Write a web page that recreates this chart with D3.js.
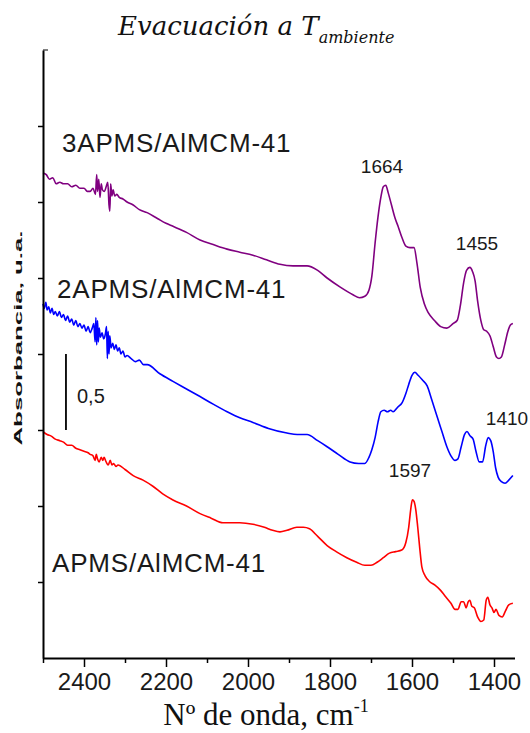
<!DOCTYPE html>
<html>
<head>
<meta charset="utf-8">
<script src="https://cdn.jsdelivr.net/npm/d3@7.9.0/dist/d3.min.js"></script>
<style>
  body { margin: 0; background: #fff; }
  svg { display: block; }
  .lbl { font-family: "Liberation Sans", Arial, sans-serif; fill: #1a1a1a; }
</style>
</head>
<body>
<svg id="chart" width="530" height="733"></svg>
<script>
// wavenumber (cm-1) and absorbance (stacked, a.u.)
const purpleWn  = [2500, 2492, 2484, 2476, 2468, 2459, 2450, 2440, 2430, 2420, 2410, 2400, 2392, 2385, 2378, 2372, 2369, 2367, 2364, 2361, 2358, 2355, 2350, 2346, 2342, 2339, 2337, 2335, 2332, 2329, 2325, 2320, 2314, 2305, 2295, 2280, 2265, 2246, 2220, 2200, 2183, 2150, 2117, 2085, 2051, 2020, 1988, 1955, 1922, 1890, 1856, 1830, 1807, 1775, 1744, 1728, 1715, 1705, 1698, 1690, 1683, 1676, 1670, 1664, 1658, 1650, 1642, 1634, 1625, 1615, 1605, 1595, 1588, 1580, 1570, 1560, 1545, 1530, 1515, 1500, 1490, 1482, 1474, 1467, 1459, 1452, 1446, 1440, 1432, 1425, 1418, 1410, 1402, 1394, 1388, 1382, 1374, 1366, 1360, 1354];
const purpleAbs = [3.19, 3.18, 3.15, 3.16, 3.12, 3.13, 3.12, 3.12, 3.10, 3.11, 3.09, 3.09, 3.07, 3.07, 3.09, 3.05, 3.18, 3.07, 3.15, 3.03, 3.12, 3.08, 3.07, 3.10, 3.13, 2.98, 2.94, 3.12, 3.04, 3.08, 3.04, 3.05, 3.03, 3.02, 3.00, 2.98, 2.95, 2.93, 2.89, 2.86, 2.84, 2.80, 2.75, 2.72, 2.69, 2.67, 2.65, 2.62, 2.59, 2.58, 2.58, 2.55, 2.50, 2.44, 2.39, 2.37, 2.38, 2.42, 2.51, 2.73, 2.90, 3.03, 3.10, 3.11, 3.06, 2.98, 2.90, 2.84, 2.77, 2.71, 2.70, 2.70, 2.60, 2.44, 2.33, 2.27, 2.22, 2.18, 2.17, 2.20, 2.22, 2.32, 2.47, 2.55, 2.57, 2.54, 2.48, 2.35, 2.22, 2.16, 2.15, 2.12, 2.05, 1.98, 1.97, 1.98, 2.06, 2.15, 2.19, 2.20];

const blueWn  = [2500, 2497, 2493, 2490, 2486, 2482, 2478, 2474, 2470, 2465, 2460, 2455, 2450, 2445, 2440, 2435, 2430, 2425, 2420, 2415, 2410, 2405, 2400, 2395, 2390, 2385, 2380, 2376, 2373, 2371, 2369, 2367, 2365, 2363, 2360, 2356, 2352, 2348, 2345, 2343, 2341, 2339, 2337, 2334, 2330, 2326, 2322, 2318, 2314, 2310, 2305, 2300, 2295, 2285, 2275, 2265, 2255, 2246, 2215, 2183, 2150, 2117, 2085, 2051, 2020, 1988, 1950, 1905, 1880, 1856, 1830, 1807, 1780, 1751, 1730, 1715, 1705, 1698, 1690, 1683, 1676, 1668, 1660, 1652, 1646, 1635, 1624, 1615, 1608, 1600, 1593, 1585, 1575, 1563, 1552, 1539, 1527, 1515, 1505, 1495, 1488, 1480, 1472, 1466, 1458, 1451, 1444, 1436, 1428, 1420, 1414, 1408, 1402, 1396, 1390, 1382, 1373, 1364, 1354];
const blueAbs = [2.33, 2.30, 2.34, 2.29, 2.31, 2.27, 2.30, 2.26, 2.28, 2.25, 2.28, 2.24, 2.26, 2.22, 2.25, 2.21, 2.23, 2.19, 2.22, 2.18, 2.20, 2.17, 2.19, 2.15, 2.18, 2.14, 2.17, 2.20, 2.08, 2.24, 2.06, 2.22, 2.08, 2.17, 2.11, 2.14, 2.10, 2.13, 2.18, 1.97, 2.15, 2.00, 2.12, 2.04, 2.07, 2.03, 2.06, 2.02, 2.04, 2.00, 2.02, 1.98, 1.99, 1.97, 1.95, 1.96, 1.93, 1.93, 1.87, 1.82, 1.77, 1.72, 1.67, 1.62, 1.58, 1.55, 1.51, 1.48, 1.47, 1.47, 1.43, 1.39, 1.34, 1.29, 1.28, 1.28, 1.32, 1.37, 1.45, 1.55, 1.62, 1.63, 1.62, 1.63, 1.62, 1.65, 1.68, 1.74, 1.80, 1.86, 1.88, 1.86, 1.83, 1.79, 1.70, 1.59, 1.49, 1.39, 1.33, 1.30, 1.31, 1.39, 1.47, 1.49, 1.46, 1.44, 1.36, 1.29, 1.29, 1.40, 1.45, 1.43, 1.36, 1.25, 1.19, 1.16, 1.15, 1.17, 1.20];

const redWn  = [2500, 2490, 2480, 2470, 2459, 2450, 2440, 2430, 2420, 2410, 2400, 2390, 2385, 2378, 2373, 2370, 2367, 2363, 2358, 2354, 2351, 2346, 2341, 2336, 2332, 2328, 2322, 2317, 2300, 2280, 2256, 2232, 2208, 2183, 2150, 2117, 2090, 2061, 2040, 2020, 1988, 1960, 1940, 1922, 1905, 1881, 1865, 1850, 1830, 1807, 1785, 1759, 1735, 1715, 1700, 1685, 1670, 1655, 1640, 1625, 1615, 1608, 1603, 1599, 1595, 1591, 1586, 1581, 1576, 1568, 1556, 1544, 1532, 1520, 1505, 1495, 1488, 1480, 1474, 1468, 1463, 1459, 1454, 1448, 1440, 1432, 1425, 1419, 1415, 1410, 1405, 1400, 1395, 1388, 1380, 1372, 1364, 1354];
const redAbs = [1.49, 1.47, 1.46, 1.44, 1.43, 1.42, 1.40, 1.40, 1.38, 1.37, 1.36, 1.35, 1.34, 1.33, 1.30, 1.34, 1.31, 1.29, 1.32, 1.30, 1.32, 1.29, 1.27, 1.30, 1.27, 1.28, 1.26, 1.27, 1.24, 1.20, 1.17, 1.13, 1.08, 1.04, 1.00, 0.95, 0.92, 0.89, 0.89, 0.89, 0.88, 0.86, 0.84, 0.83, 0.84, 0.86, 0.86, 0.85, 0.80, 0.74, 0.70, 0.66, 0.63, 0.61, 0.61, 0.63, 0.66, 0.69, 0.70, 0.71, 0.76, 0.86, 0.98, 1.04, 1.03, 0.98, 0.86, 0.72, 0.60, 0.54, 0.50, 0.48, 0.45, 0.41, 0.36, 0.32, 0.32, 0.37, 0.37, 0.33, 0.37, 0.38, 0.34, 0.33, 0.27, 0.24, 0.25, 0.38, 0.40, 0.35, 0.33, 0.30, 0.32, 0.28, 0.27, 0.31, 0.35, 0.36];

const xMajorTicks = [2400, 2200, 2000, 1800, 1600, 1400];
const xMinorTicks = [2500, 2300, 2100, 1900, 1700, 1500];
const yTicks = [0.5, 1, 1.5, 2, 2.5, 3, 3.5];

const series = [
  { name: '3APMS/AlMCM-41', wn: purpleWn, abs: purpleAbs, color: '#800080' },
  { name: '2APMS/AlMCM-41', wn: blueWn, abs: blueAbs, color: '#0000ff' },
  { name: 'APMS/AlMCM-41', wn: redWn, abs: redAbs, color: '#ff0000' },
];

const svg = d3.select('#chart');

let x = d3.scaleLinear().domain([2500, 1350]).range([43, 514.5]);
let y = d3.scaleLinear().domain([0, 4]).range([658, 50]);

// curves
let line = d3.line().x((d) => x(d[0])).y((d) => y(d[1])).curve(d3.curveMonotoneX);
series.forEach((s) => {
  svg.append('path')
    .datum(d3.zip(s.wn, s.abs))
    .attr('d', line)
    .attr('fill', 'none')
    .attr('stroke', s.color)
    .attr('stroke-width', 1.6);
});

// x axis
let xAxis = svg.append('g').attr('transform', 'translate(0,658)')
  .call(d3.axisBottom(x).tickValues(xMajorTicks).tickFormat(d3.format('d'))
    .tickSize(9).tickSizeOuter(0).tickPadding(6));
svg.append('g').attr('transform', 'translate(0,658)')
  .call(d3.axisBottom(x).tickValues(xMinorTicks).tickSize(5).tickFormat('').tickSizeOuter(0))
  .select('.domain').remove();
xAxis.selectAll('text')
  .attr('font-family', '"Liberation Sans", Arial, sans-serif')
  .attr('font-size', 24)
  .attr('fill', '#1a1a1a');

// y axis
svg.append('g').attr('transform', 'translate(43,0)')
  .call(d3.axisLeft(y).tickValues(yTicks).tickSize(5).tickFormat('').tickSizeOuter(0));
svg.append('line')
  .attr('x1', 43).attr('x2', 48).attr('y1', y(4)).attr('y2', y(4))
  .attr('stroke', '#000');

svg.selectAll('.domain').attr('stroke-width', 2);
svg.selectAll('.tick line').attr('stroke-width', 1.5);

// title
let title = svg.append('text')
  .attr('x', 118).attr('y', 35)
  .attr('font-family', '"DejaVu Serif", serif')
  .attr('font-style', 'italic')
  .attr('font-size', 26)
  .attr('fill', '#111');
title.append('tspan').text('Evacuación a T');
title.append('tspan').attr('font-size', 16).attr('dy', 8).text('ambiente');

// x label
let xl = svg.append('text')
  .attr('x', 266).attr('y', 725)
  .attr('text-anchor', 'middle')
  .attr('font-family', '"Liberation Serif", "Times New Roman", serif')
  .attr('font-size', 31)
  .attr('fill', '#111');
xl.append('tspan').text('Nº de onda, cm');
xl.append('tspan').attr('font-size', 18).attr('dy', -13).text('-1');

// y label (garbled in the original, kept as vertical text)
svg.append('text')
  .attr('transform', 'translate(22,338) rotate(-90)')
  .attr('text-anchor', 'middle')
  .attr('font-family', '"Liberation Sans", Arial, sans-serif')
  .attr('font-weight', 'bold')
  .attr('font-size', 11)
  .attr('textLength', 215)
  .attr('lengthAdjust', 'spacingAndGlyphs')
  .attr('fill', '#111')
  .text('Absorbancia, u.a.');

// series labels
const labelPos = [[62, 152], [57, 298], [52, 572]];
series.forEach((s, i) => {
  svg.append('text').attr('class', 'lbl')
    .attr('x', labelPos[i][0]).attr('y', labelPos[i][1])
    .attr('font-size', 26)
    .attr('letter-spacing', 0.8)
    .text(s.name);
});

// peak labels
const peakLabels = [['1664', 382, 173], ['1455', 477, 250], ['1410', 507, 425], ['1597', 410, 477]];
peakLabels.forEach(([t, px, py]) => {
  svg.append('text').attr('class', 'lbl')
    .attr('x', px).attr('y', py)
    .attr('text-anchor', 'middle')
    .attr('font-size', 19)
    .text(t);
});

// scale bar 0.5 a.u.
svg.append('line')
  .attr('x1', x(2444)).attr('x2', x(2444))
  .attr('y1', y(1.5)).attr('y2', y(2.0))
  .attr('stroke', '#000').attr('stroke-width', 1.8);
svg.append('text').attr('class', 'lbl')
  .attr('x', 77).attr('y', 403)
  .attr('font-size', 20)
  .text('0,5');
</script>
</body>
</html>
